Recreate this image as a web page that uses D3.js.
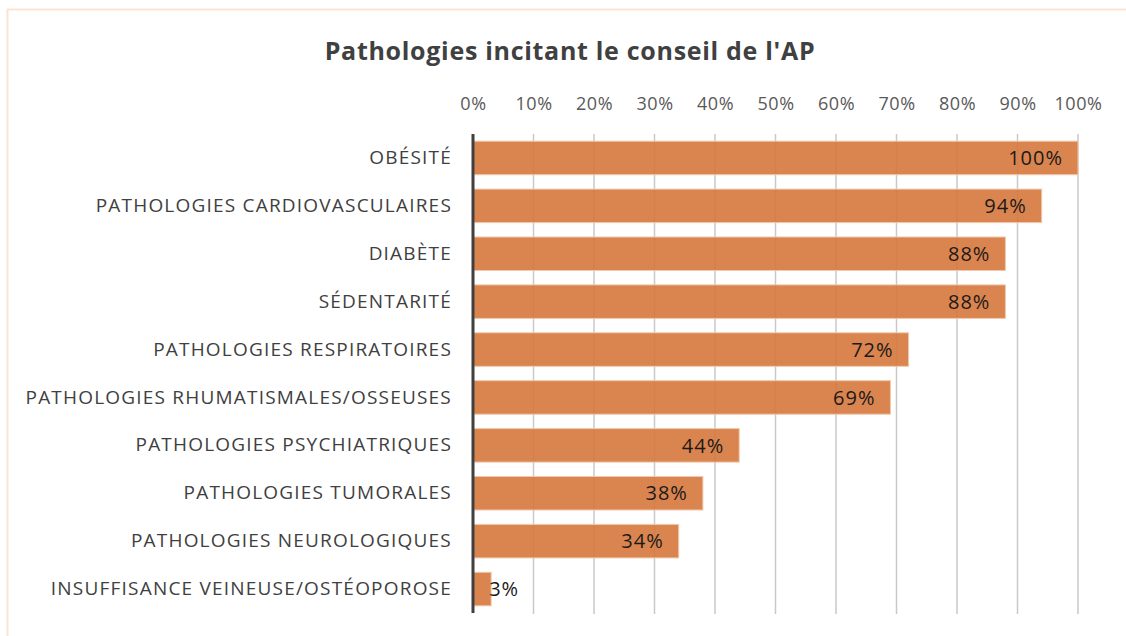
<!DOCTYPE html>
<html>
<head>
<meta charset="utf-8">
<script src="https://cdn.jsdelivr.net/npm/d3@7"></script>
<style>
  body { margin: 0; background: #fff; }
  svg { display: block; font-family: "Open Sans", "Liberation Sans", Arial, sans-serif; }
</style>
</head>
<body>
<svg width="1126" height="636"></svg>
<script>
// données du graphique
const categories = [
  "OBÉSITÉ",
  "PATHOLOGIES CARDIOVASCULAIRES",
  "DIABÈTE",
  "SÉDENTARITÉ",
  "PATHOLOGIES RESPIRATOIRES",
  "PATHOLOGIES RHUMATISMALES/OSSEUSES",
  "PATHOLOGIES PSYCHIATRIQUES",
  "PATHOLOGIES TUMORALES",
  "PATHOLOGIES NEUROLOGIQUES",
  "INSUFFISANCE VEINEUSE/OSTÉOPOROSE"
];
const values = [100, 94, 88, 88, 72, 69, 44, 38, 34, 3];
const tickValues = [0, 10, 20, 30, 40, 50, 60, 70, 80, 90, 100];
const title = "Pathologies incitant le conseil de l'AP";

const svg = d3.select("svg");

// cadre léger
svg.append("rect")
  .attr("x", 7.5).attr("y", 9.5)
  .attr("width", 1130).attr("height", 640)
  .attr("fill", "none")
  .attr("stroke", "#fbe3d4")
  .attr("stroke-width", 2);

// titre
svg.append("text")
  .attr("x", 570).attr("y", 60)
  .attr("text-anchor", "middle")
  .style("font-size", "25px")
  .style("font-weight", "bold")
  .style("letter-spacing", "0.7px")
  .style("fill", "#404040")
  .text(title);

const x = d3.scaleLinear().domain([0, 100]).range([473, 1078]);
const y = d3.scaleBand().domain(categories).range([134, 613]).paddingInner(0.3).paddingOuter(0.15);

// grille verticale
svg.append("g")
  .selectAll("line")
  .data(tickValues.slice(1))
  .join("line")
  .attr("x1", d => x(d)).attr("x2", d => x(d))
  .attr("y1", 134).attr("y2", 614)
  .attr("stroke", "#c9c9c9")
  .attr("stroke-width", 1.5);

// axe du haut
const xAxis = svg.append("g")
  .attr("transform", "translate(0,110)")
  .call(d3.axisTop(x).tickValues(tickValues).tickFormat(d => d + "%").tickSize(0).tickPadding(0));
xAxis.select(".domain").remove();
xAxis.selectAll("text")
  .style("font-size", "18px")
  .style("letter-spacing", "0.6px")
  .style("fill", "#595959")
  .style("font-family", "Open Sans, Liberation Sans, Arial, sans-serif");

// barres
svg.append("g")
  .selectAll("rect")
  .data(values)
  .join("rect")
  .attr("x", x(0))
  .attr("y", (d, i) => y(categories[i]))
  .attr("width", d => x(d) - x(0))
  .attr("height", y.bandwidth())
  .attr("fill", "#d6773c")
  .attr("fill-opacity", 0.9)
  .attr("stroke", "#f0c9ac")
  .attr("stroke-width", 1);

// axe vertical (catégories)
const yAxis = svg.append("g")
  .attr("transform", `translate(${x(0)},0)`)
  .call(d3.axisLeft(y).tickSize(0).tickPadding(21));
yAxis.select(".domain")
  .attr("stroke", "#404040")
  .attr("stroke-width", 3)
  .attr("d", "M0,134V613");
yAxis.selectAll("text")
  .style("font-size", "19px")
  .style("letter-spacing", "1.2px")
  .style("fill", "#404040")
  .style("font-family", "Open Sans, Liberation Sans, Arial, sans-serif");

// étiquettes de valeurs
svg.append("g")
  .selectAll("text")
  .data(values)
  .join("text")
  .attr("x", d => d < 10 ? x(d) - 2 : x(d) - 15)
  .attr("y", (d, i) => y(categories[i]) + y.bandwidth() / 2)
  .attr("dy", "0.36em")
  .attr("text-anchor", d => d < 10 ? "start" : "end")
  .style("font-size", "20px")
  .style("letter-spacing", "1px")
  .style("fill", "#1a1a1a")
  .text(d => d + "%");
</script>
</body>
</html>
